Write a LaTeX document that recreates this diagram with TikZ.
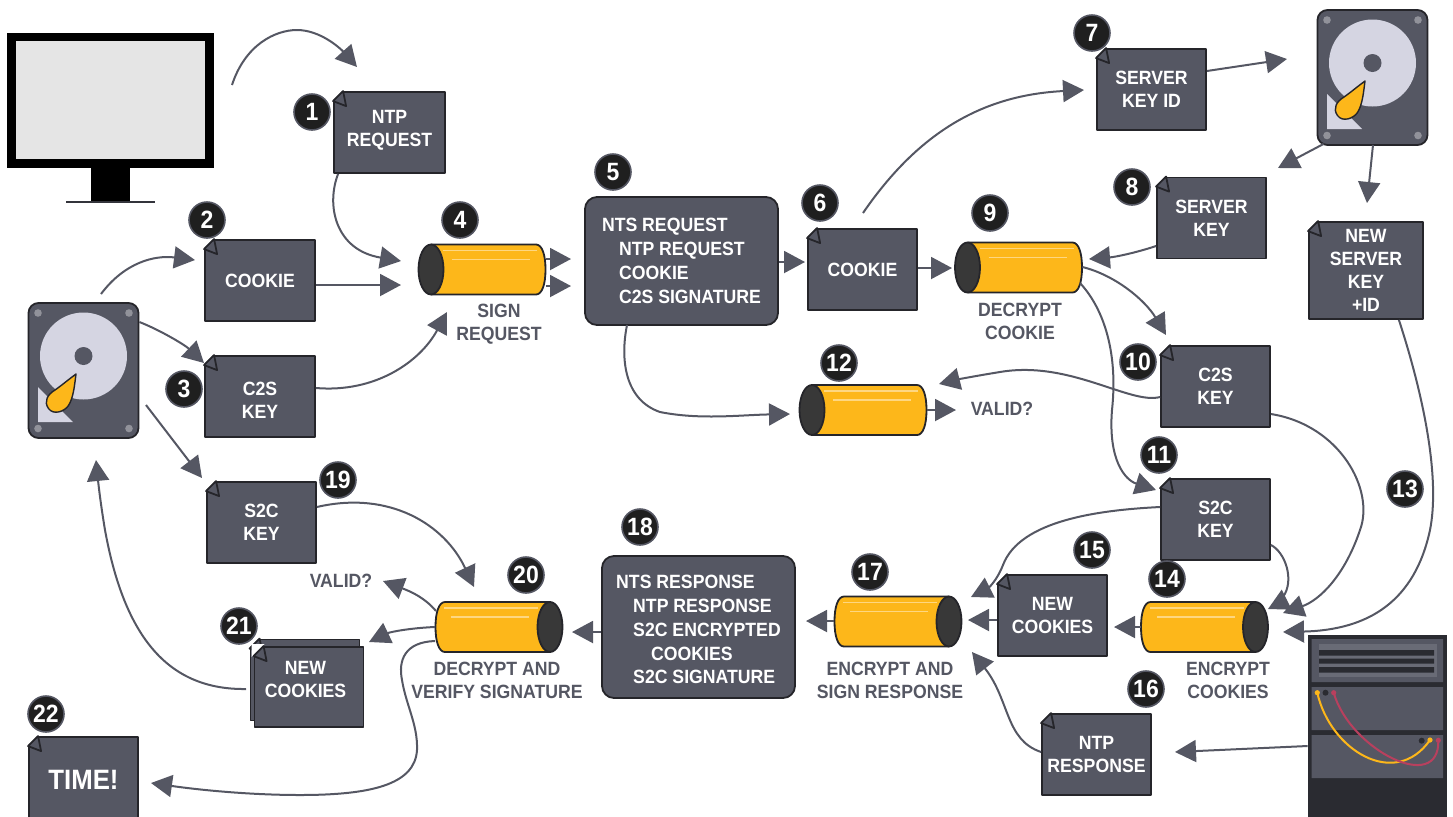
\documentclass[tikz,border=0pt]{standalone}
\usepackage{fontspec}
\setmainfont{Liberation Sans}[FakeStretch=.92]
\usetikzlibrary{arrows.meta}
\definecolor{slate}{HTML}{555763}
\definecolor{inkline}{HTML}{25252A}
\definecolor{amber}{HTML}{FDB71A}
\definecolor{platter}{HTML}{D5D5E2}
\definecolor{rack}{HTML}{2A2B31}
\definecolor{cable}{HTML}{B8405E}
\tikzset{
	flow/.style={draw=slate, line width=1pt, -{Triangle[length=10.5pt,width=11pt]}},
	docbox/.style={rectangle, draw=inkline, fill=slate, line width=.9pt, minimum width=54.5pt, minimum height=40.5pt, inner sep=0pt, align=center, text=white, font=\fontsize{9.6}{11.5}\selectfont\bfseries},
	listbox/.style={docbox, rounded corners=6pt, align=left, minimum height=64pt, font=\fontsize{9.6}{11.9}\selectfont\bfseries},
	badge/.style={circle, fill=black!88, draw=slate, line width=.8pt, minimum size=18pt, inner sep=0pt, text=white, font=\fontsize{12.5}{13}\selectfont\bfseries},
	caption/.style={align=center, inner sep=0pt, text=slate, font=\fontsize{9.6}{11.5}\selectfont\bfseries},
	tubebox/.style={rectangle, minimum width=63.5pt, minimum height=25pt, inner sep=0pt},
	hddbox/.style={rectangle, rounded corners=5pt, draw=inkline, fill=slate, line width=.9pt, minimum width=55pt, minimum height=67.5pt},
	tube/.pic={
		\draw[inkline, fill=amber, line width=.9pt] (-51,-25) -- (54,-25) .. controls (60,-25) and (63.5,-15) .. (63.5,0) .. controls (63.5,15) and (60,25) .. (54,25) -- (-51,25);
		\draw[inkline, fill=black!78, line width=.9pt] (-51,0) ellipse (12.5 and 25);
		\draw[amber!55!white, line width=.7pt] (-39,-19) -- (55,-19) (-30,-10) -- (48,-10);
	},
	hdd/.pic={
		\foreach \sx in {-45.5,45.5} \foreach \sy in {-57.5,58} \fill[slate!65!white] (\sx,\sy) circle (3.8);
		\fill[platter] (0,-14.5) circle (43.5);
		\fill[slate] (0,-14.5) circle (9);
		\fill[platter] (-45.5,16.5) -- (-45.5,51.5) -- (-10.5,51.5) -- cycle;
		\draw[inkline, fill=amber, line width=.7pt] (-7.5,3.5) .. controls (-9,15) and (-10,27) .. (-15,35) .. controls (-19,41) and (-30,45) .. (-35,38) .. controls (-40,31) and (-36,24) .. (-28.5,19.5) .. controls (-22,15) and (-15,9) .. cycle;
	},
}
\begin{document}
\begin{tikzpicture}[x=.5pt, y=-.5pt, line join=round, >=stealth]
	\useasboundingbox (0,0) rectangle (1453,816);
	% monitor
	\node[rectangle, fill=black, minimum width=103.5pt, minimum height=67.5pt, inner sep=0pt] (monitor) at (110.5,100.5) {};
	\fill[black!10] (16,41) rectangle (205,159);
	\fill[black] (91,168) rectangle (130,201);
	\draw[slate!60!black, line width=1pt] (66,202) -- (155,202);
	% rack
	\node[rectangle, fill=rack, minimum width=69.5pt, minimum height=95.5pt, inner sep=0pt] (rack) at (1377.5,730.5) {};
	\fill[slate] (1311.5,639) rectangle (1443,682) (1311.5,687) rectangle (1443,730) (1311.5,735) rectangle (1443,778);
	\fill[slate!88!white] (1319,644) rectangle (1437,677);
	\fill[rack] (1319,650) rectangle (1434,655.5) (1319,658.5) rectangle (1434,663.5) (1319,667) rectangle (1434,672.5);
	\fill[rack] (1325.5,692.7) circle (3) (1421.7,740.7) circle (3);
	\draw[amber, line width=1pt] (1317.3,692.7) .. controls (1330,750) and (1395,790) .. (1430,740);
	\draw[cable, line width=1pt] (1333.7,692.7) .. controls (1350,750) and (1440,795) .. (1438.3,740.3);
	\fill[amber] (1317.3,692.7) circle (2.6) (1430,740) circle (2.6);
	\fill[cable] (1333.7,692.7) circle (2.6) (1438.3,740.3) circle (2.6);
	% disks
	\node[hddbox] (leftdisk) at (83.5,370.5) {};
	\pic at (leftdisk) {hdd};
	\node[hddbox] (rightdisk) at (1372.5,77.5) {};
	\pic at (rightdisk) {hdd};
	% tickets
	\node[docbox, minimum width=55.5pt] (reqdoc) at (389.5,132.5) {NTP\\REQUEST\rule[-4pt]{0pt}{0pt}};
	\node[docbox, minimum width=55pt] (cookiedoc) at (260,280.5) {COOKIE};
	\node[docbox, minimum width=55pt] (ckeydoc) at (260,396.5) {\rule{0pt}{10.5pt}C2S\\KEY};
	\node[docbox] (skeydoc) at (261.5,522.5) {S2C\\KEY};
	\node[docbox] (backdoc) at (305,680) {};
	\node[docbox, minimum height=40pt] (newdoc) at (309,687) {NEW\hspace*{3.5pt}\\COOKIES\hspace*{3.5pt}\rule[-8pt]{0pt}{0pt}};
	\node[docbox, minimum height=43pt, font=\fontsize{14}{15}\selectfont\bfseries] (timedoc) at (83.5,780) {TIME!};
	\node[docbox] (cookiesix) at (862.5,269.5) {COOKIE};
	\node[docbox] (idkey) at (1151.5,89.5) {SERVER\\KEY ID};
	\node[docbox] (srvkey) at (1211.5,218) {SERVER\\KEY};
	\node[docbox, minimum width=57pt, minimum height=48.5pt] (freshkey) at (1366,270.5) {NEW\\SERVER\\KEY\\+ID};
	\node[docbox] (ckeyten) at (1215.5,386.5) {C2S\\KEY};
	\node[docbox] (skeyten) at (1215.5,519.5) {S2C\\KEY};
	\node[docbox] (freshcookies) at (1052.5,615.5) {NEW\\COOKIES};
	\node[docbox] (ntpresp) at (1096.5,754.5) {NTP\\RESPONSE};
	\foreach \d in {reqdoc,cookiedoc,ckeydoc,skeydoc,backdoc,newdoc,timedoc,cookiesix,idkey,srvkey,freshkey,ckeyten,skeyten,freshcookies,ntpresp}{
		\fill[white] ([shift={(-2,-2)}]\d.north west) -- ([shift={(11,-2)}]\d.north west) -- ([shift={(-2,11)}]\d.north west) -- cycle;
		\draw[inkline, fill=slate, line width=.9pt] ([shift={(10,0)}]\d.north west) -- ([shift={(13,15)}]\d.north west) -- ([shift={(0,10)}]\d.north west) -- cycle;
	}
	% boxes with lists
	\node[listbox, minimum width=96.5pt] (ntsreq) at (681.5,261) {NTS REQUEST\\\hspace*{8.5pt}NTP REQUEST\\\hspace*{8.5pt}COOKIE\\\hspace*{8.5pt}C2S SIGNATURE};
	\node[listbox, minimum width=96.5pt, minimum height=71pt] (ntsresp) at (698.5,627) {\rule{0pt}{9.4pt}NTS RESPONSE\\\hspace*{8.5pt}NTP RESPONSE\\\hspace*{8.5pt}S2C ENCRYPTED\\\hspace*{17.5pt}COOKIES\\\hspace*{8.5pt}S2C SIGNATURE};
	% tubes
	\node[tubebox] (signtube) at (482,269.5) {};
	\pic at (signtube) {tube};
	\node[tubebox] (openbox) at (1018.5,267.5) {};
	\pic at (openbox) {tube};
	\node[tubebox] (checktube) at (863,410) {};
	\pic at (checktube) {tube};
	\node[tubebox] (sealcookies) at (1204.5,627) {};
	\pic[xscale=-1] at (sealcookies) {tube};
	\node[tubebox] (sealresp) at (898,621.5) {};
	\pic[xscale=-1] at (sealresp) {tube};
	\node[tubebox] (openresp) at (499,627) {};
	\pic[xscale=-1] at (openresp) {tube};
	% captions
	\node[caption] (signcap) at (499,324) {SIGN\\REQUEST};
	\node[caption] (opencap) at (1020,321) {DECRYPT\\COOKIE};
	\node[caption] (validtop) at (1002,409) {VALID?};
	\node[caption] (sealcap) at (1228,680) {ENCRYPT\\COOKIES};
	\node[caption] (respcap) at (890,680) {ENCRYPT AND\\SIGN RESPONSE};
	\node[caption] (verifycap) at (497,680) {DECRYPT AND\\VERIFY SIGNATURE};
	\node[caption] (validlow) at (341,581) {VALID?};
	\foreach \n/\bx/\by in {1/312/112,2/207/220,3/184/389,4/460/220,5/613/172,6/820/203,7/1092/33,8/1132/187,9/990/213,10/1138/362,11/1159/455,12/839/363,13/1405/489,14/1167/579,15/1092/550,16/1146/689,17/870/572,18/640/527,19/338/480,20/526/575,21/239/626,22/46/714}
		\node[badge] (badge\n) at (\bx,\by) {\n};
	% free ends of connectors
	\coordinate (monout) at (232,85); \coordinate (reqin) at (357,67); \coordinate (signa) at (401,261); \coordinate (signb) at (401,285); \coordinate (signc) at (447,312);
	\coordinate (cookin) at (195,260); \coordinate (ckeyin) at (204,363); \coordinate (skeyin) at (202,478); \coordinate (reqa) at (571,259); \coordinate (reqb) at (571,286);
	\coordinate (sixin) at (805,262); \coordinate (openin) at (952,268); \coordinate (idin) at (1084,90); \coordinate (diskin) at (1287,59); \coordinate (srvin) at (1278,168);
	\coordinate (freshin) at (1367,203); \coordinate (openkey) at (1089,259); \coordinate (tenin) at (1166,335); \coordinate (elevin) at (1156,490); \coordinate (checkin) at (790,414);
	\coordinate (validin) at (956,410); \coordinate (checkkey) at (939,384); \coordinate (sealk) at (1283,613); \coordinate (seals) at (1268,609); \coordinate (sealn) at (1283,632);
	\coordinate (sealo) at (971,597); \coordinate (sealp) at (1114,627); \coordinate (sealq) at (968,620); \coordinate (sealr) at (806,621); \coordinate (sealt) at (972,652);
	\coordinate (respin) at (1175,752); \coordinate (verin) at (474,587); \coordinate (verb) at (572,632); \coordinate (valout) at (383,581); \coordinate (newin) at (369,642);
	\coordinate (timein) at (151,783); \coordinate (lefttip) at (96,460);
	% arrows
	\draw[flow] (monout) .. controls (245,45) and (275,30) .. (297,30) .. controls (320,30) and (340,48) .. (reqin);
	\draw[flow] ([xshift=2.5pt]reqdoc.south west) .. controls (326,205) and (335,250) .. (signa);
	\draw[flow] (cookiedoc.east |- signb) -- (signb);
	\draw[flow] (ckeydoc.east |- 0,388) .. controls (375,393) and (420,362) .. (signc);
	\draw[flow] (101,294) .. controls (125,262) and (155,255) .. (cookin);
	\draw[flow] (leftdisk.east |- 0,322) .. controls (160,330) and (185,345) .. (ckeyin);
	\draw[flow] (146,405) -- (skeyin);
	\draw[flow] (signtube.east |- reqa) -- (reqa);
	\draw[flow] (signtube.east |- reqb) -- (reqb);
	\draw[flow] (ntsreq.east |- sixin) -- (sixin);
	\draw[flow] (cookiesix.east |- openin) -- (openin);
	\draw[flow] (863,213) .. controls (920,130) and (985,95) .. (idin);
	\draw[flow] (idkey.east |- 0,71) -- (diskin);
	\draw[flow] ([shift={(3.5pt,1pt)}]rightdisk.south west) -- (srvin);
	\draw[flow] (1373,145) -- (freshin);
	\draw[flow] (srvkey.west |- 0,246) .. controls (1135,253) and (1115,257) .. (openkey);
	\draw[flow] (openbox.east |- 0,267) .. controls (1115,275) and (1145,300) .. (tenin);
	\draw[flow] (1080,283) .. controls (1105,310) and (1118,355) .. (1112,410) .. controls (1108,460) and (1125,480) .. (elevin);
	\draw[flow] (627,325) .. controls (620,360) and (625,400) .. (660,412) .. controls (700,420) and (740,415) .. (checkin);
	\draw[flow] (checktube.east |- validin) -- (validin);
	\draw[flow] (ckeyten.west |- 0,397) .. controls (1130,405) and (1070,360) .. (1000,372) .. controls (975,376) and (955,380) .. (checkkey);
	\draw[flow] (ckeyten.east |- 0,414) .. controls (1340,425) and (1375,490) .. (1360,530) .. controls (1345,575) and (1320,600) .. (sealk);
	\draw[flow] (skeyten.east |- 0,545) .. controls (1285,552) and (1295,580) .. (1283,597) .. controls (1279,603) and (1274,606) .. (seals);
	\draw[flow] ([xshift=-12.5pt]freshkey.south east) .. controls (1425,400) and (1440,480) .. (1430,530) .. controls (1415,600) and (1370,630) .. (sealn);
	\draw[flow] (skeyten.west |- 0,507) .. controls (1100,510) and (1020,520) .. (1003,565) .. controls (995,585) and (985,590) .. (sealo);
	\draw[flow] (sealcookies.west |- sealp) -- (sealp);
	\draw[flow] (freshcookies.west |- sealq) -- (sealq);
	\draw[flow] (sealresp.west |- sealr) -- (sealr);
	\draw[flow] (ntpresp.west |- 0,752) .. controls (1005,740) and (1010,700) .. (sealt);
	\draw[flow] (rack.west |- 0,746) -- (respin);
	\draw[flow] (skeydoc.east |- 0,507) .. controls (390,490) and (445,525) .. (verin);
	\draw[flow] (ntsresp.west |- verb) -- (verb);
	\draw[flow] (436,611) .. controls (425,598) and (412,592) .. (valout);
	\draw[flow] (openresp.west |- 0,627) .. controls (410,628) and (390,632) .. (newin);
	\draw[flow] (openresp.west |- 0,641) .. controls (405,642) and (398,660) .. (402,680) .. controls (406,705) and (418,725) .. (417,750) .. controls (415,785) and (370,795) .. (300,795) .. controls (250,795) and (200,790) .. (timein);
	\draw[flow] (246,689) .. controls (170,690) and (125,640) .. (105,530) .. controls (100,500) and (98,480) .. (lefttip);
\end{tikzpicture}
\end{document}
